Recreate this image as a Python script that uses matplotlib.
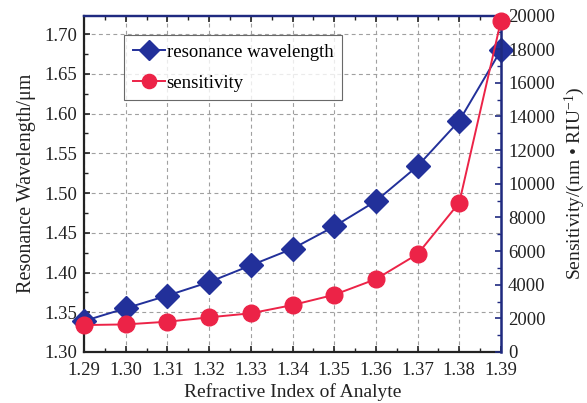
import matplotlib
matplotlib.use("Agg")
import matplotlib.pyplot as plt
from matplotlib.ticker import MultipleLocator, AutoMinorLocator

plt.rcParams['font.family'] = ['Liberation Serif', 'DejaVu Serif']
plt.rcParams['mathtext.fontset'] = 'custom'
plt.rcParams['mathtext.rm'] = 'Liberation Serif'
plt.rcParams['mathtext.it'] = 'Liberation Serif:italic'

ri = [1.29, 1.30, 1.31, 1.32, 1.33, 1.34, 1.35, 1.36, 1.37, 1.38, 1.39]
wavelength = [1.339, 1.355, 1.371, 1.388, 1.409, 1.430, 1.458, 1.490, 1.534, 1.591, 1.680]
sensitivity = [1600, 1640, 1800, 2060, 2300, 2790, 3400, 4330, 5820, 8880, 19700]

blue = '#22309A'
red = '#EC2347'
navy = '#1F2A80'
txt = '#222222'

fig = plt.figure(figsize=(5.87, 4.03), dpi=100)
ax = fig.add_axes([84/587, 1-352/403, (501-84)/587, (352-15.5)/403])
ax2 = ax.twinx()

l1, = ax.plot(ri, wavelength, '-', color=blue, marker='D', ms=12.5, lw=1.4,
              label='resonance wavelength', clip_on=False, zorder=3)
l2, = ax2.plot(ri, sensitivity, '-', color=red, marker='o', ms=12, lw=1.4,
               label='sensitivity', clip_on=False, zorder=3)

ax.set_xlim(1.29, 1.39)
ax.set_ylim(1.30, 1.7235)
ax2.set_ylim(0, 20000)

ax.xaxis.set_minor_locator(AutoMinorLocator(2))
ax.yaxis.set_major_locator(MultipleLocator(0.05))
ax.yaxis.set_minor_locator(AutoMinorLocator(2))
ax2.yaxis.set_major_locator(MultipleLocator(2000))
ax2.yaxis.set_minor_locator(AutoMinorLocator(2))

ax.set_xticks(ri)
ax.set_xticklabels(['%.2f' % v for v in ri])

ax.grid(True, which='major', color='#A0A0A0', ls=(0, (3.5, 3)), lw=0.8)
ax.set_axisbelow(True)

fs = 13.5
ax.tick_params(axis='both', which='both', direction='in', labelsize=fs, colors=txt)
ax.tick_params(axis='x', which='both', top=True, pad=7)
ax.tick_params(axis='y', which='both', pad=5)
ax.tick_params(which='major', length=4, width=1.2)
ax.tick_params(which='minor', length=3, width=1.0)
ax2.tick_params(axis='y', which='both', direction='in', labelsize=fs, colors=navy,
                labelcolor=txt, pad=5)
ax2.tick_params(which='major', length=4, width=1.2)
ax2.tick_params(which='minor', length=3, width=1.0)

for s in ['left', 'bottom']:
    ax.spines[s].set_color(txt)
    ax.spines[s].set_linewidth(1.6)
ax.spines['top'].set_color(navy)
ax.spines['top'].set_linewidth(1.6)
ax2.spines['right'].set_color(navy)
ax2.spines['right'].set_linewidth(1.8)
ax2.spines['top'].set_color(navy)
ax2.spines['top'].set_linewidth(1.6)
ax2.spines['left'].set_visible(False)
ax2.spines['bottom'].set_visible(False)

ax.set_xlabel('Refractive Index of Analyte', fontsize=14, color=txt, labelpad=3)
ax.set_ylabel('Resonance Wavelength/μm', fontsize=14.5, color=txt, labelpad=6)
ax2.set_ylabel('Sensitivity/(nm \u2022 RIU$^{-1}$)', fontsize=14, color=txt, labelpad=6)

leg = ax.legend(handles=[l1, l2], loc='upper left', bbox_to_anchor=(0.097, 0.942),
                fontsize=fs, frameon=True, fancybox=False, edgecolor='#444444',
                borderpad=0.45, handlelength=1.7, handletextpad=0.1, labelspacing=0.75,
                borderaxespad=0.0, markerscale=0.85)
leg.get_frame().set_linewidth(0.8)
leg.set_zorder(5)

fig.savefig('out.png', dpi=100)
